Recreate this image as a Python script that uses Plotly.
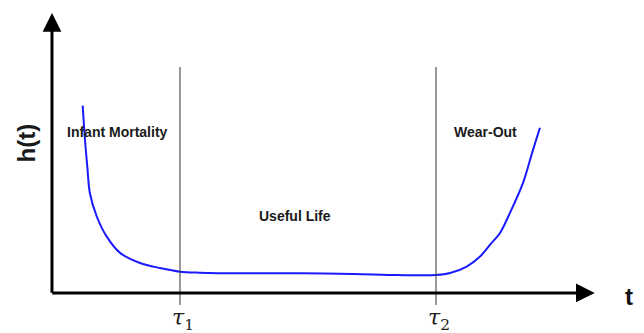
import plotly.graph_objects as go

# Bathtub hazard curve (t, h(t)) in arbitrary units
t_vals = [1.2, 1.29, 1.38, 1.48, 1.75, 2.14, 2.66, 3.44, 4.22, 5.0, 5.78, 7.46,
          9.69, 11.76, 13.48, 15.0, 15.55, 16.2, 16.72, 17.1, 17.5, 17.89, 18.4,
          18.79, 19.06]
h_vals = [6.69, 5.46, 4.51, 3.57, 2.73, 2.01, 1.43, 1.07, 0.89, 0.76, 0.725, 0.70,
          0.70, 0.68, 0.64, 0.64, 0.71, 0.94, 1.30, 1.71, 2.14, 2.86, 3.93,
          5.11, 5.90]

tau_vals = [5.0, 15.0]
tau_labels = ["<i>τ</i><sub>1</sub>", "<i>τ</i><sub>2</sub>"]
region_labels = ["Infant Mortality", "Useful Life", "Wear-Out"]
region_t = [2.55, 9.5, 16.95]
region_h = [5.75, 2.75, 5.75]
t_max = 21.2
h_max = 10.0

fig = go.Figure()
fig.add_trace(go.Scatter(x=t_vals, y=h_vals, mode="lines",
                         line=dict(color="#1a1aff", width=2, shape="spline", smoothing=0.9),
                         hoverinfo="skip", showlegend=False))

shapes = []
for tv in tau_vals:
    shapes.append(dict(type="line", xref="x", yref="y", x0=tv, x1=tv, y0=-0.43, y1=8.07,
                       line=dict(color="#333333", width=1)))

annotations = []
# axes with arrows
annotations.append(dict(x=t_max, y=0, ax=-0.05, ay=0, xref="x", yref="y", axref="x", ayref="y",
                        text="", showarrow=True, arrowhead=2, arrowsize=1.25, arrowwidth=3,
                        arrowcolor="black"))
annotations.append(dict(x=0, y=h_max, ax=0, ay=-0.05, xref="x", yref="y", axref="x", ayref="y",
                        text="", showarrow=True, arrowhead=2, arrowsize=1.25, arrowwidth=3,
                        arrowcolor="black"))
for tv, lab in zip(tau_vals, tau_labels):
    annotations.append(dict(x=tv + 0.1, y=-0.95, xref="x", yref="y", text=lab, showarrow=False,
                            font=dict(family="DejaVu Serif", size=22, color="#222222")))
for tv, hv, lab in zip(region_t, region_h, region_labels):
    annotations.append(dict(x=tv, y=hv, xref="x", yref="y", text="<b>" + lab + "</b>",
                            showarrow=False,
                            font=dict(family="Liberation Sans", size=14, color="#1a1a1a")))
annotations.append(dict(x=22.55, y=-0.12, xref="x", yref="y", text="<b>t</b>", showarrow=False,
                        font=dict(family="Liberation Sans", size=24, color="#111111")))
annotations.append(dict(x=-1.0, y=5.35, xref="x", yref="y", text="<b>h(t)</b>", showarrow=False,
                        textangle=-90,
                        font=dict(family="Liberation Sans", size=24, color="#1a1a1a")))

fig.update_layout(
    width=644, height=333,
    margin=dict(l=0, r=0, t=0, b=0),
    paper_bgcolor="white", plot_bgcolor="white",
    xaxis=dict(range=[-2.03, 23.125], visible=False, fixedrange=True),
    yaxis=dict(range=[-1.43, 10.46], visible=False, fixedrange=True),
    shapes=shapes, annotations=annotations, showlegend=False,
)

fig.write_html("out.html", config={"displayModeBar": False},
               post_script="document.body.style.margin='0';")
